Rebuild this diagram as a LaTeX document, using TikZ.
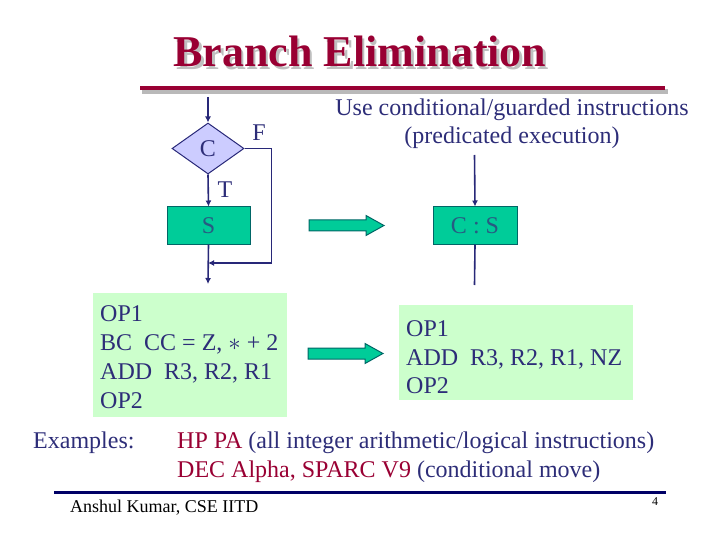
\documentclass[tikz,border=0pt]{standalone}
\usepackage{fontspec}
\setmainfont{Liberation Serif}
\usetikzlibrary{shapes.geometric,arrows.meta}
\definecolor{titlered}{RGB}{153,0,51}
\definecolor{navytext}{RGB}{45,45,120}
\definecolor{linenavy}{RGB}{40,40,120}
\definecolor{rulenavy}{RGB}{0,0,102}
\definecolor{lavfill}{RGB}{204,204,255}
\definecolor{tealfill}{RGB}{0,204,153}
\definecolor{tealtext}{RGB}{40,90,130}
\definecolor{tealborder}{RGB}{0,102,102}
\definecolor{codegreen}{RGB}{204,255,204}
\tikzset{
  body/.style={font=\fontsize{24}{29}\selectfont, text=navytext, inner sep=0pt},
  flow/.style={draw=linenavy, line width=1.6pt},
  tip/.style={-{Latex[length=6pt,width=6pt]}},
  diam/.style={diamond, draw=linenavy, line width=1pt, fill=lavfill, minimum width=72pt, minimum height=51pt, inner sep=0pt, text=navytext, font=\fontsize{24}{29}\selectfont},
  sbox/.style={rectangle, draw=tealborder, line width=1pt, fill=tealfill, minimum height=37pt, inner sep=0pt, text=tealtext, font=\fontsize{24}{29}\selectfont},
  codebox/.style={rectangle, fill=codegreen, inner sep=0pt},
  codetext/.style={body, align=left, anchor=north west},
  blockarrow/.style={fill=tealfill, draw=tealborder, line width=1pt, line join=miter},
}
\newcommand{\shadowtitle}[1]{\makebox[0pt][l]{\hspace{2.5pt}\raisebox{-2.5pt}{\textcolor{gray!50}{#1}}}\textcolor{titlered}{#1}}
\begin{document}
\begin{tikzpicture}[x=1pt,y=-1pt]
\useasboundingbox (0,0) rectangle (720,540);
% title
\node[font=\fontsize{44}{50}\selectfont\bfseries, inner sep=0pt] (title) at (360,53) {\shadowtitle{Branch Elimination}};
\fill[gray!55] (142,89) rectangle (667.5,94);
\fill[titlered] (140,86) rectangle (665,90.5);
% left flowchart
\coordinate (top1) at (208,97);
\node[diam] (C) at (208,148.5) {C};
\node[sbox, minimum width=83pt] (S) at (208.5,225.5) {S};
\coordinate (merge) at (208,263);
\coordinate (bot1) at (208,284);
\node[body] (F) at (259,133) {F};
\node[body] (T) at (225,190) {T};
\draw[flow,tip] (top1) -- (C.north);
\draw[flow,tip] (C.south) -- (S.north);
\draw[flow,tip] (S.south) -- (bot1);
\draw[flow,tip] (C.east) -- ++(27,0) |- (merge);
% right header
\node[body] (use1) at (512,110) {Use conditional/guarded instructions};
\node[body] (use2) at (512,138) {(predicated execution)};
% right flow
\coordinate (top2) at (474.5,155);
\node[sbox, minimum width=84pt] (CS) at (475,225.5) {C : S};
\coordinate (bot2) at (474.5,285);
\draw[flow,tip] (top2) -- (CS.north);
\draw[flow] (CS.south) -- (bot2);
% block arrows
\draw[blockarrow] (309,220) -- (366,220) -- (366,215.5) -- (384,225.5) -- (366,235.5) -- (366,231) -- (309,231) -- cycle;
\draw[blockarrow] (308,348) -- (365,348) -- (365,343.5) -- (383,353.5) -- (365,363.5) -- (365,359) -- (308,359) -- cycle;
% code boxes
\node[codebox, minimum width=194pt, minimum height=124pt] (codeL) at (190,355) {};
\node[codetext] (codeLt) at (100,305) {OP1\\BC\ \ CC = Z, $\ast$ + 2\\ADD\ \ R3, R2, R1\\OP2};
\node[codebox, minimum width=234pt, minimum height=95pt] (codeR) at (516,352.5) {};
\node[codetext, font=\fontsize{24}{28.5}\selectfont] (codeRt) at (406,320.5) {OP1\\ADD\ \ R3, R2, R1, NZ\\OP2};
% examples
\node[body, anchor=base west] (ex) at (33,448) {Examples:};
\node[body, anchor=base west] (ex1) at (177,448) {\textcolor{titlered}{HP PA} (all integer arithmetic/logical instructions)};
\node[body, anchor=base west] (ex2) at (177,477) {\textcolor{titlered}{DEC Alpha, SPARC V9} (conditional move)};
% footer
\fill[rulenavy] (54,490.5) rectangle (666,494);
\node[font=\fontsize{18}{20}\selectfont, inner sep=0pt, anchor=base west] (author) at (70,512) {Anshul Kumar, CSE IITD};
\node[font=\fontsize{12}{14}\selectfont, inner sep=0pt] (page) at (655,502) {4};
\end{tikzpicture}
\end{document}
